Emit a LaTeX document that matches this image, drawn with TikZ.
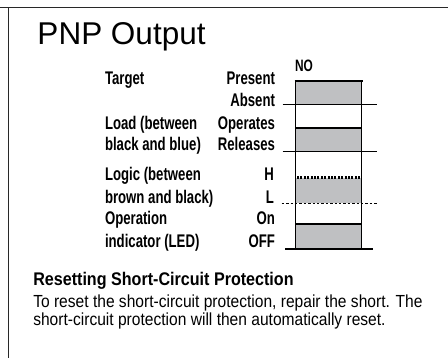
\documentclass[tikz,border=0pt]{standalone}
\usepackage{fontspec}
\setmainfont{Liberation Sans}
\newfontfamily\lblfont{Liberation Sans}[FakeStretch=0.72]
\newfontfamily\hdrfont{Liberation Sans}[FakeStretch=0.88]
\newfontfamily\bodyfont{Liberation Sans}[FakeStretch=0.89]
\definecolor{chartgray}{RGB}{191,192,194}
\definecolor{framegray}{RGB}{40,40,40}
\begin{document}
\begin{tikzpicture}[x=1pt,y=-1pt,
  every node/.style={inner sep=0pt,outer sep=0pt},
  lbl/.style={font=\lblfont\bfseries\fontsize{18.3}{18.3}\selectfont},
  lblL/.style={lbl,anchor=base west},
  lblR/.style={lbl,anchor=base east},
  thin/.style={line width=0.9pt},
  thick/.style={line width=2.2pt},
  fillbox/.style={fill=chartgray,draw=none}]
\useasboundingbox (0,0) rectangle (448,358);
% frame
\draw[framegray,line width=1.6pt] (0,7.6) -- (448,7.6);
\draw[framegray,line width=1.4pt] (8.6,7.6) -- (8.6,358);
% title
\node[anchor=base west,font=\fontsize{31.5}{31.5}\selectfont] (title) at (37.5,44.3) {PNP Output};
% left labels
\node[lblL] (t1) at (105,84.3) {Target};
\node[lblL] (t2) at (105,129.3) {Load (between};
\node[lblL] (t3) at (105,151) {black and blue)};
\node[lblL] (t4) at (105,180.7) {Logic (between};
\node[lblL] (t5) at (105,204) {brown and black)};
\node[lblL] (t6) at (105,225) {Operation};
\node[lblL] (t7) at (105,247.3) {indicator (LED)};
% right labels
\node[lblR] (r1) at (275,84.3) {Present};
\node[lblR] (r2) at (275,106.7) {Absent};
\node[lblR] (r3) at (275,129.3) {Operates};
\node[lblR] (r4) at (275,151) {Releases};
\node[lblR] (r5) at (274,180.7) {H};
\node[lblR] (r6) at (274,204) {L};
\node[lblR] (r7) at (275,225) {On};
\node[lblR] (r8) at (275,247.3) {OFF};
\node[lblL,font=\lblfont\bfseries\fontsize{16.5}{16.5}\selectfont] (no) at (295,72) {NO};
% chart fills
\fill[chartgray] (295.7,80.7) rectangle (361.7,104.3);
\fill[chartgray] (295.7,128.3) rectangle (361.7,151.7);
\fill[chartgray] (295.7,177.7) rectangle (361.7,203.3);
\fill[chartgray] (295.7,224) rectangle (361.7,249.3);
% verticals
\draw[thin] (295.7,80.7) -- (295.7,249.3);
\draw[thin] (361.7,80.7) -- (361.7,249.3);
% horizontals
\draw[thick] (294.6,80.7) -- (362.8,80.7);
\draw[thin] (282.7,104.3) -- (376.5,104.3);
\draw[thick] (295.7,128.3) -- (361.7,128.3);
\draw[thin] (282.7,151.7) -- (376.5,151.7);
\draw[line width=2.4pt,dash pattern=on 2pt off 1.4pt] (297,177.7) -- (361,177.7);
\draw[line width=0.8pt,dash pattern=on 2.4pt off 2pt] (281.7,203.3) -- (378,203.3);
\draw[thick] (295.7,224) -- (361.7,224);
\draw[line width=1.6pt] (285,249.3) -- (373,249.3);
% bottom text
\node[anchor=base west,font=\hdrfont\bfseries\fontsize{18.3}{18.3}\selectfont] (hdr) at (33.3,286) {Resetting Short-Circuit Protection};
\node[anchor=base west,font=\bodyfont\fontsize{17.5}{17.5}\selectfont] (b1) at (33.3,307.3) {To reset the short-circuit protection, repair the short. The};
\node[anchor=base west,font=\bodyfont\fontsize{17.5}{17.5}\selectfont] (b2) at (33.3,326) {short-circuit protection will then automatically reset.};
\end{tikzpicture}
\end{document}
